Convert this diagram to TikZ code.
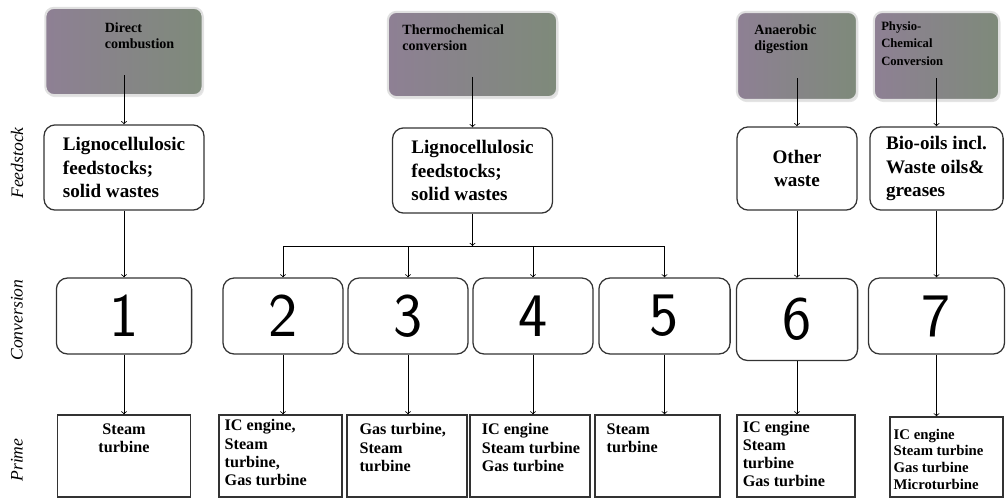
\documentclass[tikz,border=0pt]{standalone}
\usepackage{fontspec}
\setmainfont{Liberation Serif}
\usetikzlibrary{arrows}
\usetikzlibrary{positioning,shapes,shadows}
\definecolor{srcpurple}{HTML}{8E8094}
\definecolor{srcgreen}{HTML}{7E8A7A}
\definecolor{boxline}{HTML}{333333}
\def\fsfont{\fontsize{13.6}{16.8}\selectfont\bfseries}
\def\pmfont{\fontsize{11.5}{13}\selectfont\bfseries}

\begin{document}
\begin{tikzpicture}[%
      x=0.025cm, y=-0.025cm,
      every node/.style={inner sep=0pt},
      srcbox/.style={rectangle, rounded corners=6pt, draw=black!12, line width=1.5pt,
        left color=srcpurple, right color=srcgreen,
        drop shadow={opacity=0.2, shadow xshift=1pt, shadow yshift=-1.5pt}},
      srctext/.style={anchor=north west, align=left, font=\fontsize{10}{11.5}\selectfont\bfseries},
      feedbox/.style={rectangle, rounded corners=8pt, draw=boxline, line width=0.9pt, fill=white, font=\fsfont},
      convbox/.style={rectangle, rounded corners=8pt, draw=boxline, line width=0.9pt, font=\fontsize{44}{44}\sffamily},
      primebox/.style={rectangle, draw=boxline, line width=0.9pt},
      primetext/.style={anchor=north west, align=left, font=\pmfont},
      sidetext/.style={rotate=90, font=\fontsize{12.5}{14}\selectfont\itshape},
      >=to, line width=0.6pt
    ]
    \useasboundingbox (0,0) rectangle (1006,501);
    % processes
    \node [srcbox, minimum width=3.93cm, minimum height=2.18cm,
      label={[srctext, xshift=1.5cm, yshift=-0.38cm]north west:{Direct\\combustion}}] (src1) at (124,51.5) {};
    \node [srcbox, minimum width=4.23cm, minimum height=2.13cm,
      label={[srctext, xshift=0.38cm, yshift=-0.33cm]north west:{Thermochemical\\conversion}}] (src2) at (472.5,54.5) {};
    \node [srcbox, minimum width=3cm, minimum height=2.2cm,
      label={[srctext, xshift=0.45cm, yshift=-0.33cm]north west:{Anaerobic\\digestion}}] (src3) at (797,56) {};
    \node [srcbox, minimum width=3.13cm, minimum height=2.2cm,
      label={[srctext, font=\fontsize{9}{12.5}\selectfont\bfseries, xshift=0.2cm, yshift=-0.25cm]north west:{Physio-\\Chemical\\Conversion}}] (src4) at (936.5,56) {};
    % feedstock
    \node [feedbox, minimum width=4cm, minimum height=2.13cm, align=left] (fs1) at (124,167.5) {Lignocellulosic\\feedstocks;\\solid wastes};
    \node [feedbox, minimum width=4cm, minimum height=2.13cm, align=left] (fs2) at (472.5,170.5) {Lignocellulosic\\feedstocks;\\solid wastes};
    \node [feedbox, minimum width=3cm, minimum height=2.08cm, align=center] (fs3) at (797,168.5) {Other\\waste};
    \node [feedbox, minimum width=3.33cm, minimum height=2.08cm, align=left] (fs4) at (936.5,168.5) {Bio-oils incl.\\Waste oils\&\\greases};
    % conversion
    \node [convbox, minimum width=3.38cm, minimum height=1.9cm] (cv1) at (124,316) {1};
    \node [convbox, minimum width=3cm, minimum height=1.9cm] (cv2) at (283,316) {2};
    \node [convbox, minimum width=3cm, minimum height=1.9cm] (cv3) at (408,316) {3};
    \node [convbox, minimum width=3cm, minimum height=1.9cm] (cv4) at (533,316) {4};
    \node [convbox, minimum width=3.28cm, minimum height=1.9cm] (cv5) at (664.5,316) {5};
    \node [convbox, minimum width=3.03cm, minimum height=2.05cm] (cv6) at (797,319.5) {6};
    \node [convbox, minimum width=3.4cm, minimum height=1.9cm] (cv7) at (936.5,316) {7};
    % prime movers
    \node [primebox, minimum width=3.33cm, minimum height=2.05cm,
      label={[primetext, anchor=north, align=center, yshift=-0.22cm]north:{Steam\\turbine}}] (pm1) at (124,456) {};
    \node [primebox, minimum width=3.08cm, minimum height=2.05cm,
      label={[primetext, xshift=0.15cm, yshift=-0.12cm]north west:{IC engine,\\Steam\\turbine,\\Gas turbine}}] (pm2) at (280.5,456) {};
    \node [primebox, minimum width=3cm, minimum height=2.05cm,
      label={[primetext, xshift=0.32cm, yshift=-0.22cm]north west:{Gas turbine,\\Steam\\turbine}}] (pm3) at (407,456) {};
    \node [primebox, minimum width=3cm, minimum height=2.05cm,
      label={[primetext, xshift=0.3cm, yshift=-0.22cm]north west:{IC engine\\Steam turbine\\Gas turbine}}] (pm4) at (530,456) {};
    \node [primebox, minimum width=3.13cm, minimum height=2.05cm,
      label={[primetext, xshift=0.3cm, yshift=-0.22cm]north west:{Steam\\turbine}}] (pm5) at (657.5,456) {};
    \node [primebox, minimum width=2.95cm, minimum height=2.05cm,
      label={[primetext, xshift=0.15cm, yshift=-0.15cm]north west:{IC engine\\Steam\\turbine\\Gas turbine}}] (pm6) at (796,456) {};
    \node [primebox, minimum width=2.83cm, minimum height=2cm,
      label={[primetext, font=\fontsize{10.5}{12}\selectfont\bfseries, xshift=0.1cm, yshift=-0.3cm]north west:{IC engine\\Steam turbine\\Gas turbine\\Microturbine}}] (pm7) at (946.5,457) {};
    % row titles
    \node [sidetext] (tfeed) at (17,163) {Feedstock};
    \node [sidetext] (tconv) at (17,320) {Conversion};
    \node [sidetext] (tprime) at (17,460) {Prime};
    \coordinate (bus) at (472.5,246);
    \path [draw] ([yshift=-0.59cm]src1.center) edge[->] (fs1)
    ([yshift=-0.56cm]src2.center) edge[->] (fs2)
    ([yshift=-0.55cm]src3.center) edge[->] (fs3)
    ([yshift=-0.55cm]src4.center) edge[->] (fs4)
    (fs1) edge[->] (cv1)
    (fs2) edge[->] (bus)
    (bus -| cv2.north) edge (bus -| cv5.north)
    (bus -| cv2.north) edge[->] (cv2)
    (bus -| cv3.north) edge[->] (cv3)
    (bus -| cv4.north) edge[->] (cv4)
    (bus -| cv5.north) edge[->] (cv5)
    (fs3) edge[->] (cv6)
    (fs4) edge[->] (cv7)
    (cv1) edge[->] (pm1)
    (cv2.south) edge[->] (cv2.south |- pm2.north)
    (cv3.south) edge[->] (cv3.south |- pm3.north)
    (cv4.south) edge[->] (cv4.south |- pm4.north)
    (cv5.south) edge[->] (cv5.south |- pm5.north)
    (cv6) edge[->] (cv6.south |- pm6.north)
    (cv7.south) edge[->] (cv7.south |- pm7.north)
    ;
\end{tikzpicture}
\end{document}
